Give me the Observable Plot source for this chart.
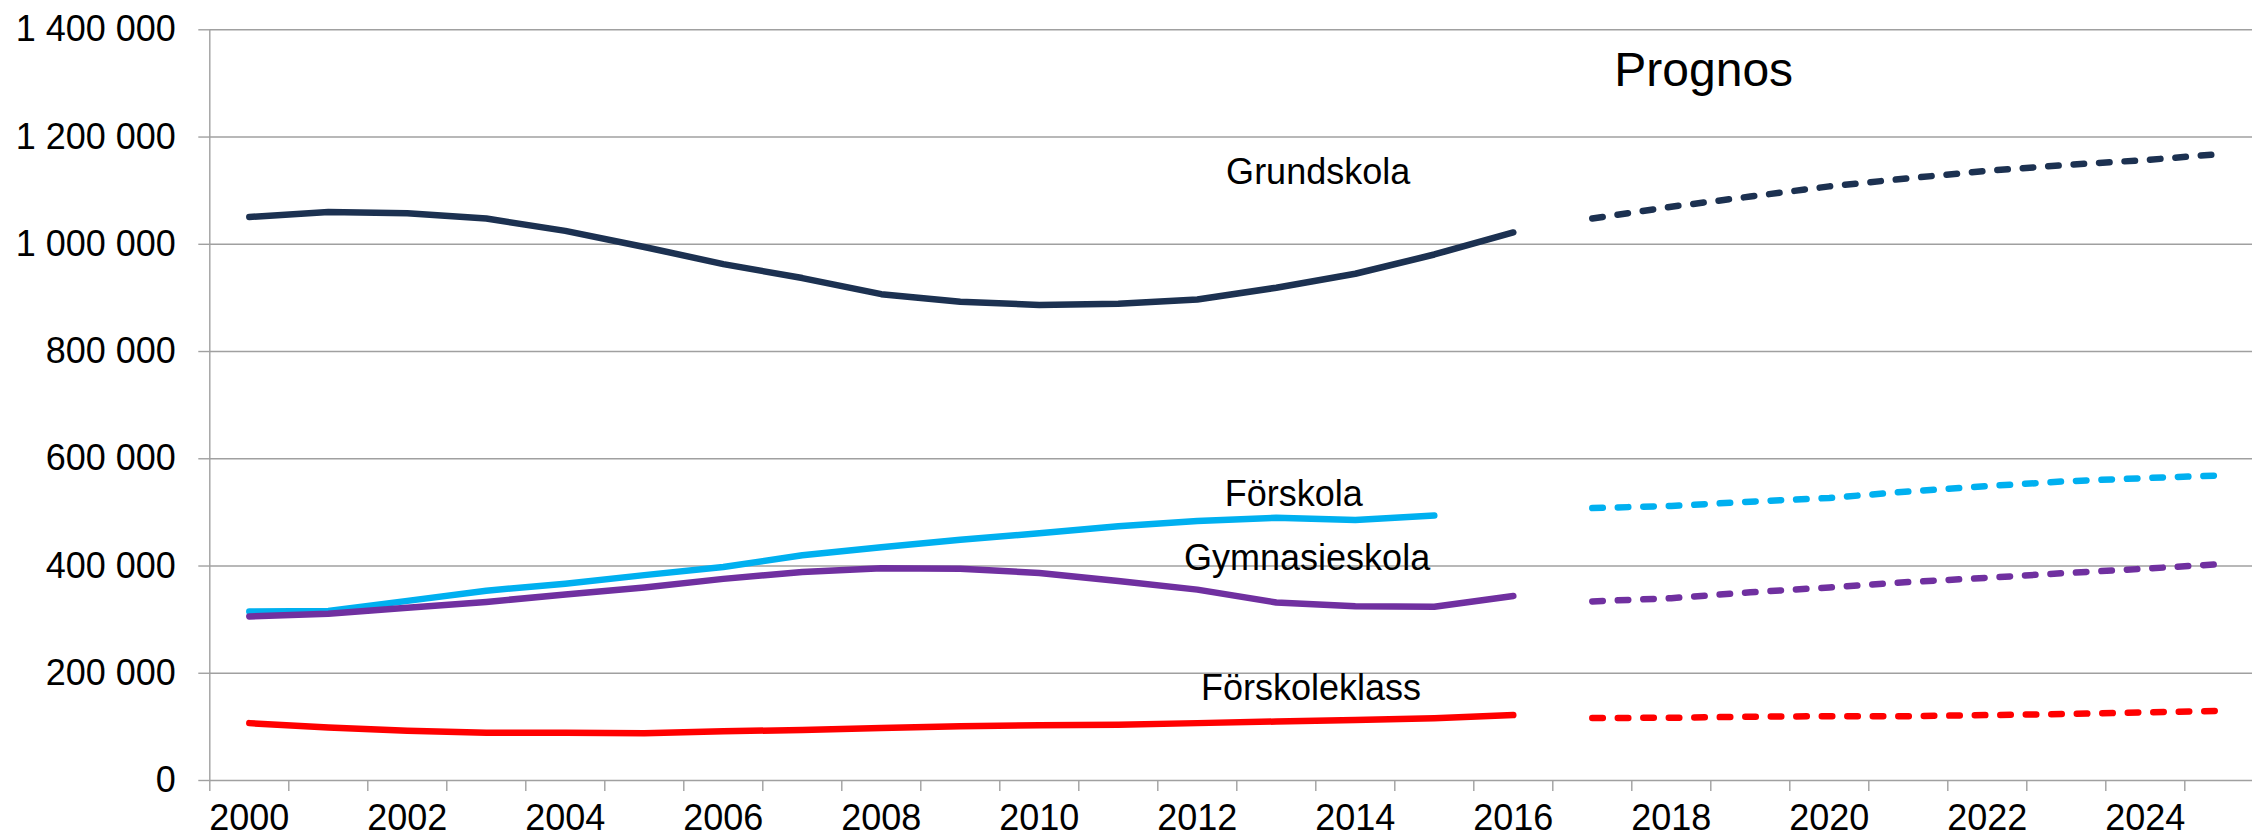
<!DOCTYPE html>
<html>
<head>
<meta charset="utf-8">
<script src="https://cdn.jsdelivr.net/npm/d3@7"></script>
<script src="https://cdn.jsdelivr.net/npm/@observablehq/plot@0.6"></script>
<style>
  html, body { margin: 0; padding: 0; background: #fff; }
  #chart svg { display: block; }
</style>
</head>
<body>
<div id="chart"></div>
<script>
// ---- Data ----
const seriesNames = ["Grundskola", "Förskola", "Gymnasieskola", "Förskoleklass"];
const seriesColors = ["#1c3151", "#00b0f0", "#7030a0", "#ff0000"];

const histYears = [2000, 2001, 2002, 2003, 2004, 2005, 2006, 2007, 2008, 2009, 2010, 2011, 2012, 2013, 2014, 2015, 2016];
const grundskola = [1051000, 1060000, 1058000, 1048000, 1025000, 995000, 963000, 937000, 907000, 893000, 887000, 889000, 897000, 919000, 945000, 981000, 1022000];
const forskola = [315000, 316000, 335000, 354000, 367000, 383000, 398000, 420000, 435000, 449000, 461000, 474000, 484000, 490000, 486000, 494000, null];
const gymnasieskola = [306000, 311000, 322000, 333000, 347000, 360000, 376000, 389000, 396000, 395000, 387000, 372000, 356000, 332000, 325000, 324000, 344000];
const forskoleklass = [107000, 99000, 93000, 89000, 89000, 88000, 92000, 94000, 98000, 101000, 103000, 104000, 107000, 110000, 113000, 116000, 122000];

const progYears = [2017, 2018, 2019, 2020, 2021, 2022, 2023, 2024, 2025];
const grundskolaProg = [1048000, 1070000, 1089000, 1108000, 1123000, 1137000, 1148000, 1157000, 1169000];
const forskolaProg = [508000, 512000, 520000, 527000, 539000, 549000, 558000, 564000, 569000];
const gymnasieskolaProg = [334000, 340000, 351000, 360000, 370000, 378000, 387000, 395000, 404000];
const forskoleklassProg = [116500, 117000, 119000, 120000, 120000, 122000, 124000, 127000, 130000];

const yTicks = [0, 200000, 400000, 600000, 800000, 1000000, 1200000, 1400000];
const xLabelYears = [2000, 2002, 2004, 2006, 2008, 2010, 2012, 2014, 2016, 2018, 2020, 2022, 2024];
const categoryBounds = [1999.5, 2000.5, 2001.5, 2002.5, 2003.5, 2004.5, 2005.5, 2006.5, 2007.5, 2008.5, 2009.5, 2010.5, 2011.5, 2012.5, 2013.5, 2014.5, 2015.5, 2016.5, 2017.5, 2018.5, 2019.5, 2020.5, 2021.5, 2022.5, 2023.5, 2024.5];

// label anchors (year, value) for the in-chart series labels
const labelNames = ["Grundskola", "Förskola", "Gymnasieskola", "Förskoleklass"];
const labelYears = [2013.53, 2013.22, 2013.39, 2013.44];
const labelValues = [1113000, 511500, 393000, 149200];
const titleText = "Prognos";
const titleYear = 2018.41;
const titleValue = 1295000;

// ---- Build tables ----
const histValues = [grundskola, forskola, gymnasieskola, forskoleklass];
const progValues = [grundskolaProg, forskolaProg, gymnasieskolaProg, forskoleklassProg];
const hist = [];
const prog = [];
seriesNames.forEach((name, s) => {
  histYears.forEach((yr, i) => { if (histValues[s][i] != null) hist.push({series: name, year: yr, value: histValues[s][i]}); });
  progYears.forEach((yr, i) => { if (progValues[s][i] != null) prog.push({series: name, year: yr, value: progValues[s][i]}); });
});
const labels = labelNames.map((n, i) => ({name: n, year: labelYears[i], value: labelValues[i]}));

const locale = d3.formatLocale({decimal: ",", thousands: " ", grouping: [3], currency: ["", " kr"]});
const fmt = locale.format(",d");

const gridColor = "#a0a0a0";
const font = "'Liberation Sans', Arial, Helvetica, sans-serif";

const chart = Plot.plot({
  width: 2252,
  height: 839,
  marginLeft: 209.3,
  marginRight: 0,
  marginTop: 29.3,
  marginBottom: 59,
  style: {fontFamily: font, background: "#fff", color: "#000", overflow: "visible"},
  x: {domain: [1999.5, 2025.5], range: [209.3, 2263.3]},
  y: {domain: [0, 1400000]},
  color: {domain: seriesNames, range: seriesColors},
  marks: [
    Plot.gridY(yTicks, {stroke: gridColor, strokeOpacity: 1, strokeWidth: 1.4}),
    Plot.ruleX([1999.5], {y1: 0, y2: 1400000, stroke: gridColor, strokeWidth: 1.4}),
    Plot.axisY({ticks: yTicks, tickSize: 11, tickPadding: 23, fontSize: 36, tickFormat: fmt, stroke: gridColor, strokeWidth: 1.4, fill: "#000", label: null}),
    Plot.axisX({ticks: categoryBounds, tickSize: 11, tickFormat: () => "", stroke: gridColor, strokeWidth: 1.4, label: null}),
    Plot.axisX({ticks: xLabelYears, tickSize: 0, tickPadding: 24, fontSize: 36, tickFormat: d => String(d), fill: "#000", label: null}),
    Plot.line(hist, {x: "year", y: "value", z: "series", stroke: "series", strokeWidth: 6.5, strokeLinecap: "round", strokeLinejoin: "round"}),
    Plot.line(prog, {x: "year", y: "value", z: "series", stroke: "series", strokeWidth: 6.5, strokeLinecap: "round", strokeLinejoin: "round", strokeDasharray: "10.5 15"}),
    Plot.text(labels, {x: "year", y: "value", text: "name", fontSize: 36, lineAnchor: "bottom", textAnchor: "middle", fill: "#000"}),
    Plot.text([titleText], {x: () => titleYear, y: () => titleValue, text: d => d, fontSize: 48, lineAnchor: "bottom", textAnchor: "middle", fill: "#000"})
  ]
});
document.getElementById("chart").appendChild(chart);
</script>
</body>
</html>
